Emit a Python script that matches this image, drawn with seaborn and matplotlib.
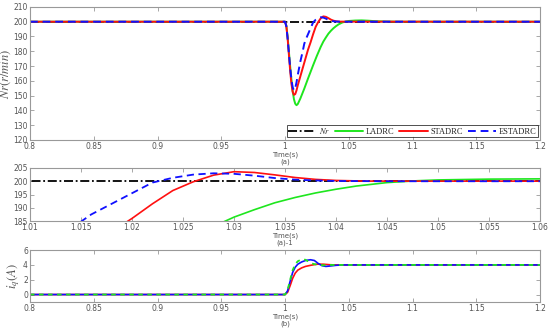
import numpy as np
import pandas as pd
import matplotlib
matplotlib.use("Agg")
import matplotlib.pyplot as plt
import seaborn as sns

# -------------------------
# data
# -------------------------
t_nr = [0.8, 1.2]
nr_ref = [200, 200]

t_lad = [0.8, 1.0, 1.001, 1.002, 1.003, 1.004, 1.005, 1.006, 1.007, 1.008, 1.009, 1.010,
         1.012, 1.015, 1.018, 1.020, 1.022, 1.025, 1.028, 1.030, 1.032, 1.034, 1.036,
         1.038, 1.040, 1.042, 1.045, 1.048, 1.050, 1.055, 1.060, 1.065, 1.070, 1.080, 1.090, 1.2]
n_lad = [200, 200, 197.5, 190, 180, 170, 161, 153, 147.5, 144.5, 143.5, 144.3,
         148, 154.5, 161.5, 166, 170.5, 177, 183, 186.5, 189.3, 191.9, 193.9,
         195.6, 197, 198.2, 199.5, 200.2, 200.5, 200.8, 200.9, 200.7, 200.4, 200.1, 200, 200]

t_st = [0.8, 1.0, 1.001, 1.002, 1.003, 1.004, 1.005, 1.006, 1.007, 1.008, 1.009, 1.010,
        1.012, 1.014, 1.016, 1.018, 1.020, 1.022, 1.024, 1.026, 1.028, 1.030, 1.032,
        1.034, 1.036, 1.038, 1.040, 1.043, 1.2]
n_st = [200, 200, 197, 189, 178, 167, 158, 152.5, 150.5, 151, 153.5, 157,
        163, 169, 175, 181, 186, 191.5, 196.5, 199.8, 202.3, 203.6, 203.3,
        202.4, 201.4, 200.7, 200.3, 200.05, 200]

t_est = [0.8, 1.0, 1.001, 1.002, 1.003, 1.004, 1.005, 1.006, 1.007, 1.008, 1.009, 1.010,
         1.012, 1.014, 1.015, 1.016, 1.018, 1.020, 1.022, 1.024, 1.026, 1.028, 1.030,
         1.032, 1.034, 1.036, 1.038, 1.040, 1.045, 1.2]
n_est = [200, 200, 197, 189, 179, 169, 161, 155.5, 153.5, 155, 159, 164,
         173, 180.5, 184.8, 187.5, 191.5, 195.5, 199.5, 201.3, 202.5, 203, 202.8,
         202.1, 201.2, 200.6, 200.3, 200.1, 200, 200]

# iq curves
t_iq_st = [0.8, 1.0, 1.002, 1.004, 1.006, 1.008, 1.010, 1.013, 1.016, 1.020, 1.025, 1.030, 1.035, 1.040, 1.2]
iq_st = [0, 0, 0.3, 1.2, 2.2, 2.9, 3.3, 3.6, 3.8, 3.95, 4.1, 4.1, 4.03, 4.0, 4.0]

t_iq_est = [0.8, 1.0, 1.002, 1.004, 1.006, 1.008, 1.010, 1.013, 1.016, 1.020, 1.023, 1.026,
            1.029, 1.032, 1.035, 1.040, 1.045, 1.2]
iq_est = [0, 0, 0.5, 1.8, 3.0, 3.7, 4.1, 4.4, 4.6, 4.7, 4.6, 4.2, 3.9, 3.8, 3.85, 3.95, 4.0, 4.0]

t_iq_lad = [0.8, 1.0, 1.002, 1.004, 1.006, 1.008, 1.010, 1.013, 1.016, 1.019, 1.022, 1.026,
            1.030, 1.035, 1.2]
iq_lad = [0, 0, 0.6, 2.0, 3.3, 4.1, 4.5, 4.75, 4.7, 4.4, 4.15, 4.0, 3.95, 4.0, 4.0]

# -------------------------
# style
# -------------------------
sns.set_style("ticks")
plt.rcParams['font.family'] = ['DejaVu Sans']
plt.rcParams['mathtext.fontset'] = 'stix'
grey = '#555555'
spine_c = '#999999'

fig = plt.figure(figsize=(5.5, 3.3), dpi=100)
ax1 = fig.add_axes([0.0545, 0.576, 0.9275, 0.403])
ax2 = fig.add_axes([0.0545, 0.330, 0.9275, 0.161])
ax3 = fig.add_axes([0.0545, 0.085, 0.9275, 0.157])


def style_ax(ax):
    for s in ax.spines.values():
        s.set_color(spine_c)
        s.set_linewidth(0.8)
    ax.tick_params(direction='in', top=True, right=True, labelsize=5.5,
                   colors=spine_c, labelcolor=grey, length=3, width=0.6, pad=1.5)


def set_time_label(ax, tag):
    ax.set_xlabel('Time(s)\n' + tag, fontsize=5, color=grey, labelpad=0.5, linespacing=1.05)


# -------------------------
# (a)
# -------------------------
sns.lineplot(x=t_nr, y=nr_ref, ax=ax1, color='black', linestyle=(0, (5, 1.5, 1, 1.5)), lw=1.3, label='$Nr$')
sns.lineplot(x=t_lad, y=n_lad, ax=ax1, color='#1ee61e', lw=1.4, label='LADRC')
sns.lineplot(x=t_st, y=n_st, ax=ax1, color='#ff1010', lw=1.4, label='STADRC')
sns.lineplot(x=t_est, y=n_est, ax=ax1, color='#1010ff', linestyle=(0, (4, 2.5)), lw=1.4, label='ESTADRC')
ax1.set_xlim(0.8, 1.2)
ax1.set_ylim(120, 210)
ax1.set_xticks([0.8, 0.85, 0.9, 0.95, 1.0, 1.05, 1.1, 1.15, 1.2])
ax1.set_xticklabels(['0.8', '0.85', '0.9', '0.95', '1', '1.05', '1.1', '1.15', '1.2'])
ax1.set_yticks(range(120, 211, 10))
ax1.set_ylabel('$Nr(r/min)$', fontsize=9, color=grey, labelpad=0)
set_time_label(ax1, '(a)')
style_ax(ax1)
leg = ax1.legend(loc='lower right', ncol=4, frameon=True, fancybox=False,
                 edgecolor='black', handlelength=3.4, columnspacing=0.6, handletextpad=0.3,
                 borderpad=0.15, borderaxespad=0.3, prop={'family': 'Liberation Serif', 'size': 6})
leg.get_frame().set_linewidth(0.6)

# -------------------------
# (a)-1 zoom
# -------------------------
sns.lineplot(x=t_nr, y=nr_ref, ax=ax2, color='black', linestyle=(0, (5, 1.5, 1, 1.5)), lw=1.3)
sns.lineplot(x=t_lad, y=n_lad, ax=ax2, color='#1ee61e', lw=1.2)
sns.lineplot(x=t_st, y=n_st, ax=ax2, color='#ff1010', lw=1.2)
sns.lineplot(x=t_est, y=n_est, ax=ax2, color='#1010ff', linestyle=(0, (4, 2.5)), lw=1.3)
ax2.set_xlim(1.01, 1.06)
ax2.set_ylim(185, 205)
ax2.set_xticks([1.01, 1.015, 1.02, 1.025, 1.03, 1.035, 1.04, 1.045, 1.05, 1.055, 1.06])
ax2.set_xticklabels(['1.01', '1.015', '1.02', '1.025', '1.03', '1.035', '1.04', '1.045', '1.05', '1.055', '1.06'])
ax2.set_yticks([185, 190, 195, 200, 205])
set_time_label(ax2, '(a)-1')
style_ax(ax2)

# -------------------------
# (b) iq
# -------------------------
sns.lineplot(x=t_iq_st, y=iq_st, ax=ax3, color='#ff1010', lw=1.2)
sns.lineplot(x=t_iq_est, y=iq_est, ax=ax3, color='#1010ff', lw=1.2)
sns.lineplot(x=t_iq_lad, y=iq_lad, ax=ax3, color='#1ee61e', linestyle=(0, (2.5, 2.5)), lw=1.3)
ax3.set_xlim(0.8, 1.2)
ax3.set_ylim(-1, 6)
ax3.set_xticks([0.8, 0.85, 0.9, 0.95, 1.0, 1.05, 1.1, 1.15, 1.2])
ax3.set_xticklabels(['0.8', '0.85', '0.9', '0.95', '1', '1.05', '1.1', '1.15', '1.2'])
ax3.set_yticks([0, 2, 4, 6])
ax3.set_ylabel('$i_q(A)$', fontsize=9, color=grey, labelpad=1)
set_time_label(ax3, '(b)')
style_ax(ax3)

fig.savefig('out.png', dpi=100)
